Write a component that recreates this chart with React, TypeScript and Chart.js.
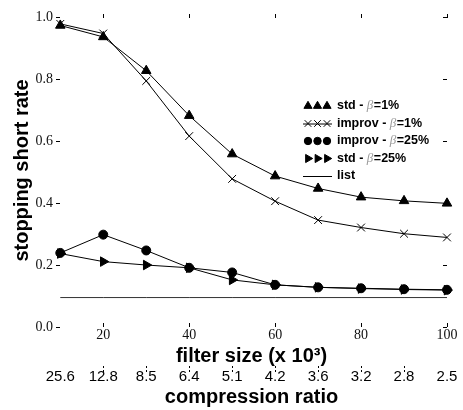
import React, { useEffect, useRef } from "react";
import { Chart, registerables } from "chart.js";
import { drawPoint } from "chart.js/helpers";

Chart.register(...registerables);

const filterSizes = [10, 20, 30, 40, 50, 60, 70, 80, 90, 100];
const compressionRatios = ["25.6", "12.8", "8.5", "6.4", "5.1", "4.2", "3.6", "3.2", "2.8", "2.5"];
const stdBeta1 = [0.973, 0.936, 0.827, 0.682, 0.558, 0.487, 0.447, 0.419, 0.407, 0.399];
const improvBeta1 = [0.978, 0.947, 0.794, 0.616, 0.478, 0.406, 0.345, 0.321, 0.301, 0.289];
const improvBeta25 = [0.239, 0.298, 0.247, 0.191, 0.176, 0.136, 0.128, 0.125, 0.122, 0.12];
const stdBeta25 = [0.237, 0.211, 0.2, 0.191, 0.152, 0.136, 0.128, 0.124, 0.121, 0.119];
const listRate = [0.095, 0.095, 0.095, 0.095, 0.095, 0.095, 0.095, 0.095, 0.095, 0.095];
const xTicks = [20, 40, 60, 80, 100];
const yTicks = [0, 0.2, 0.4, 0.6, 0.8, 1.0];
const seriesLabels = ["std - β=1%", "improv - β=1%", "improv - β=25%", "std - β=25%", "list"];

const pts = (ys: number[]) => filterSizes.map((x, i) => ({ x, y: ys[i] }));

const gnuplotTicks = {
  id: "gnuplotTicks",
  afterDraw(chart: any) {
    const { ctx, chartArea, scales } = chart;
    const { left, right, top, bottom } = chartArea;
    ctx.save();
    ctx.strokeStyle = "#000";
    ctx.lineWidth = 1;
    ctx.beginPath();
    xTicks.forEach((v) => {
      const px = Math.round(scales.x.getPixelForValue(v)) + 0.5;
      ctx.moveTo(px, bottom);
      ctx.lineTo(px, bottom - 4);
      ctx.moveTo(px, top);
      ctx.lineTo(px, top + 4);
    });
    yTicks.forEach((v) => {
      const py = Math.round(scales.y.getPixelForValue(v)) + 0.5;
      ctx.moveTo(left, py);
      ctx.lineTo(left + 4, py);
      ctx.moveTo(right, py);
      ctx.lineTo(right - 4, py);
    });
    ctx.stroke();
    ctx.setLineDash([2, 2]);
    ctx.beginPath();
    filterSizes.slice(1, -1).forEach((v) => {
      const px = Math.round(scales.x2.getPixelForValue(v)) + 0.5;
      ctx.moveTo(px, scales.x2.top - 1);
      ctx.lineTo(px, scales.x2.top + 6);
    });
    ctx.stroke();
    ctx.restore();
  },
};

const legendPlugin = {
  id: "gnuLegend",
  afterDatasetsDraw(chart: any) {
    const { ctx } = chart;
    const x0 = 303;
    const x1 = 332;
    const textX = 337;
    ctx.save();
    chart.data.datasets.forEach((ds: any, i: number) => {
      const y = 106 + i * 17.5;
      ctx.strokeStyle = "#000";
      ctx.lineWidth = 1;
      if (ds.pointRadius === 0 || ds.pointStyle === "crossRot") {
        ctx.beginPath();
        ctx.moveTo(x0, y + 0.5);
        ctx.lineTo(x1, y + 0.5);
        ctx.stroke();
      }
      if (ds.pointRadius > 0) {
        [308, 317.5, 327].forEach((cx) => {
          ctx.fillStyle = "#000";
          ctx.strokeStyle = "#000";
          ctx.lineWidth = 1;
          drawPoint(ctx, { pointStyle: ds.pointStyle, rotation: ds.pointRotation || 0, radius: ds.pointRadius - 0.8, borderWidth: 1 }, cx, y);
        });
      }
      const parts = String(ds.label).split("β");
      let tx = textX;
      ctx.textBaseline = "middle";
      ctx.textAlign = "left";
      parts.forEach((p: string, j: number) => {
        ctx.font = "bold 12.5px 'Liberation Sans', Arial, sans-serif";
        ctx.fillStyle = "#000";
        ctx.fillText(p, tx, y);
        tx += ctx.measureText(p).width;
        if (j < parts.length - 1) {
          ctx.font = "italic 13px 'Liberation Serif', serif";
          ctx.fillStyle = "#9a9a9a";
          ctx.fillText("β", tx, y);
          tx += ctx.measureText("β").width + 0.5;
        }
      });
    });
    ctx.restore();
  },
};

export default function App() {
  const ref = useRef<HTMLCanvasElement | null>(null);
  useEffect(() => {
    if (!ref.current) return;
    const base = {
      borderColor: "#000",
      backgroundColor: "#000",
      pointBackgroundColor: "#000",
      pointBorderColor: "#000",
      borderWidth: 1,
      pointBorderWidth: 1,
      tension: 0,
      clip: false as any,
    };
    const titleFont = { family: "'Liberation Sans', Arial, sans-serif", size: 20, weight: "bold", lineHeight: 1 };
    const chart = new Chart(ref.current, {
      type: "line",
      data: {
        datasets: [
          { ...base, label: seriesLabels[0], data: pts(stdBeta1), pointStyle: "triangle", pointRadius: 5.5 },
          { ...base, label: seriesLabels[1], data: pts(improvBeta1), pointStyle: "crossRot", pointRadius: 5.5 },
          { ...base, label: seriesLabels[2], data: pts(improvBeta25), pointStyle: "circle", pointRadius: 4.5 },
          { ...base, label: seriesLabels[3], data: pts(stdBeta25), pointStyle: "triangle", pointRotation: 90, pointRadius: 5.5 },
          { ...base, label: seriesLabels[4], data: pts(listRate), pointRadius: 0, borderColor: "#333" },
        ],
      },
      options: {
        animation: false,
        responsive: false,
        devicePixelRatio: 1,
        layout: { padding: { top: 14, right: 16, left: 0, bottom: 0 } },
        plugins: { legend: { display: false }, tooltip: { enabled: false } },
        scales: {
          x: {
            type: "linear",
            position: "bottom",
            weight: 0,
            min: 9,
            max: 100,
            afterBuildTicks: (s: any) => {
              s.ticks = xTicks.map((v) => ({ value: v }));
            },
            afterFit: (s: any) => {
              s.height = 40;
            },
            grid: { display: false, drawTicks: false },
            border: { display: false },
            ticks: {
              autoSkip: false,
              maxRotation: 0,
              padding: 0,
              color: "#111",
              font: { family: "'Liberation Serif', serif", size: 14 },
            },
            title: {
              display: true,
              text: "filter size (x 10³)",
              color: "#000",
              font: titleFont,
              padding: { top: 0, bottom: 1 },
            },
          },
          x2: {
            type: "linear",
            position: "bottom",
            weight: 1,
            min: 9,
            max: 100,
            afterBuildTicks: (s: any) => {
              s.ticks = filterSizes.map((v) => ({ value: v }));
            },
            afterFit: (s: any) => {
              s.height = 43;
            },
            grid: { display: false, drawTicks: false },
            border: { display: false },
            ticks: {
              autoSkip: false,
              maxRotation: 0,
              padding: 1,
              color: "#000",
              font: { family: "'Liberation Sans', Arial, sans-serif", size: 15 },
              callback: (_v: any, i: number) => compressionRatios[i],
            },
            title: {
              display: true,
              text: "compression ratio",
              color: "#000",
              font: titleFont,
              padding: { top: 0, bottom: 3 },
            },
          },
          y: {
            type: "linear",
            min: 0,
            max: 1.01,
            afterBuildTicks: (s: any) => {
              s.ticks = yTicks.map((v) => ({ value: v }));
            },
            afterFit: (s: any) => {
              s.width = 56;
            },
            grid: { display: false, drawTicks: false },
            border: { display: false },
            ticks: {
              padding: 3,
              color: "#111",
              font: { family: "'Liberation Serif', serif", size: 14 },
              callback: (v: any) => Number(v).toFixed(1),
            },
            title: {
              display: true,
              text: "stopping short rate",
              color: "#000",
              font: titleFont,
              padding: { top: 12.5, bottom: 0 },
            },
          },
        },
      },
      plugins: [gnuplotTicks, legendPlugin],
    } as any);
    return () => chart.destroy();
  }, []);
  return (
    <div style={{ position: "absolute", left: 0, top: 0, width: 463, height: 410, background: "#fff" }}>
      <canvas ref={ref} width={463} height={410} style={{ width: 463, height: 410, display: "block" }} />
    </div>
  );
}
